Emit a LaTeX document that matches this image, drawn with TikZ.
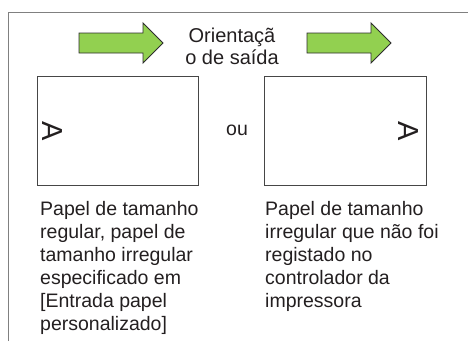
\documentclass[tikz,border=0pt]{standalone}
\usepackage{fontspec}
\setmainfont{Liberation Sans}
\usepackage{xcolor}
\usetikzlibrary{positioning}
\definecolor{ink}{RGB}{35,31,32}
\definecolor{frameline}{RGB}{128,128,128}
\definecolor{pageline}{RGB}{70,70,70}
\definecolor{arrowfill}{RGB}{146,208,80}
\definecolor{arrowline}{RGB}{45,45,45}
\tikzset{
  page/.style     ={draw=pageline, line width=0.9pt},
  bodytext/.style ={font=\fontsize{19.5}{23}\selectfont, color=ink, align=left,
                    inner sep=0pt, anchor=north west},
  titletext/.style={font=\fontsize{20}{22}\selectfont, color=ink, align=center, inner sep=0pt},
  pageletter/.style={font=\fontsize{29}{29}\selectfont, color=ink, inner sep=0pt},
  feedarrow/.style={draw=arrowline, fill=arrowfill, line width=0.9pt, line join=miter},
}
\begin{document}
\begin{tikzpicture}[x=1pt, y=-1pt]
\useasboundingbox (0,0) rectangle (468,341);
% frame
\draw[frameline, line width=1pt] (8,341) -- (8,12) -- (468,12);
% output direction
\foreach \x in {79, 307} {
  \draw[feedarrow] (\x,33) -- ++(64,0) -- ++(0,-10) -- ++(20,20) -- ++(-20,20)
    -- ++(0,-10) -- ++(-64,0) -- cycle;
}
\node[titletext] (title) at (232,46) {Orientaçã\\o de saída};
% pages
\draw[page] (37,76) rectangle (198,185);
\draw[page] (264,76) rectangle (426,185);
\node[pageletter, rotate=-90] (leftA) at (52,131) {A};
\node[pageletter, rotate=-90] (rightA) at (408,131) {A};
\node[font=\fontsize{19.5}{23}\selectfont, color=ink, inner sep=0pt] (ou) at (237,130) {ou};
% captions
\node[bodytext] (leftcap) at (40,201) {Papel de tamanho\\regular, papel de\\tamanho irregular\\especificado em\\{[}Entrada papel\\personalizado{]}};
\node[bodytext] (rightcap) at (265,201) {Papel de tamanho\\irregular que não foi\\registado no\\controlador da\\impressora};
\end{tikzpicture}
\end{document}
